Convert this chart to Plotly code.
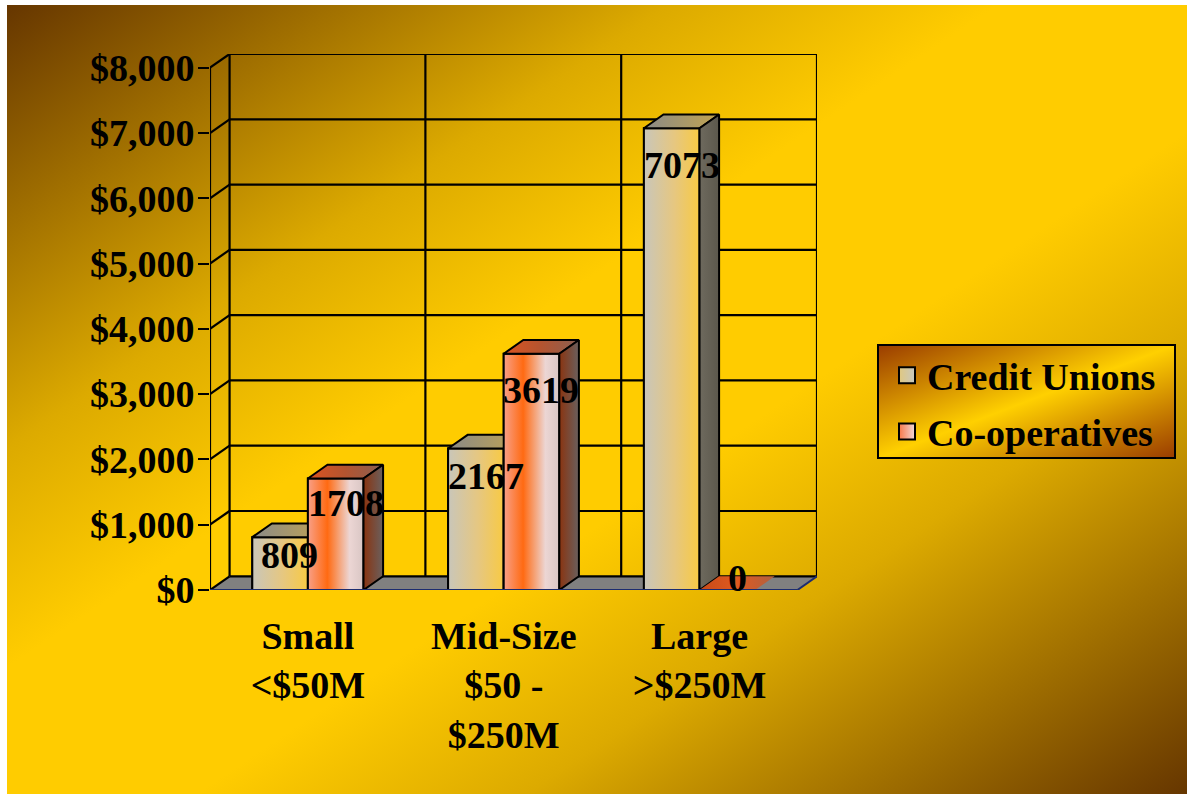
import base64
import plotly.graph_objects as go

# ---------------- data ----------------
categories = ["Small<br><$50M", "Mid-Size<br>$50 -<br>$250M", "Large<br>>$250M"]
series_names = ["Credit Unions", "Co-operatives"]
credit_unions = [809, 2167, 7073]
cooperatives = [1708, 3619, 0]
y_ticks = [0, 1000, 2000, 3000, 4000, 5000, 6000, 7000, 8000]
y_ticktext = ["$" + f"{v:,}" for v in y_ticks]

# ---------------- geometry / style ----------------
FIG_W, FIG_H = 1187, 794
ML, MR, MT, MB = 210, 370, 54, 204
PW, PH = FIG_W - ML - MR, FIG_H - MT - MB
DX, DY = 0.1, 210          # 3-D depth offset (x units, y units)
BAR_W = 0.284
BAR_OFF = [-0.142, 0.142]
YMAX = y_ticks[-1]
FONT = "Liberation Serif"

styles = [
    dict(front=[[0, "#c9c6ba"], [0.55, "#e6c780"], [1, "#f8ca44"]],
         top=[[0, "#8a8a88"], [1, "#c2a450"]],
         side=[[0, "#6e6a5e"], [1, "#5c584c"]],
         solid="#e0c880", legend2="#c8c8c0"),
    dict(front=[[0, "#f8a088"], [0.35, "#ff6a12"], [0.75, "#ecd6d4"], [1, "#d9c6c4"]],
         top=[[0, "#dc5420"], [0.5, "#b45430"], [1, "#8a6052"]],
         side=[[0, "#8a3410"], [1, "#6a605e"]],
         solid="#f87848", legend2="#f0d8d8"),
]

fig = go.Figure()

# --------- background (slide gradient + legend panel) ---------
svg = """<svg xmlns='http://www.w3.org/2000/svg' width='1180' height='789' viewBox='0 0 1180 789' preserveAspectRatio='none'>
<defs>
<linearGradient id='g' x1='0' y1='0' x2='1' y2='1'>
<stop offset='0' stop-color='#663600'/><stop offset='0.28' stop-color='#dcaa00'/>
<stop offset='0.42' stop-color='#ffcc00'/><stop offset='0.58' stop-color='#ffcc00'/>
<stop offset='0.72' stop-color='#dcaa00'/><stop offset='1' stop-color='#663600'/>
</linearGradient>
<linearGradient id='l' x1='0' y1='0' x2='1' y2='1'>
<stop offset='0' stop-color='#9a3c00'/><stop offset='0.5' stop-color='#ffd000'/><stop offset='1' stop-color='#9a3c00'/>
</linearGradient>
</defs>
<rect x='0' y='0' width='1180' height='789' fill='url(#g)'/>
<rect x='871' y='340' width='297' height='113' fill='url(#l)' stroke='black' stroke-width='2'/>
</svg>"""
uri = "data:image/svg+xml;base64," + base64.b64encode(svg.encode()).decode()
fig.add_layout_image(dict(source=uri, xref="paper", yref="paper",
                          x=(7 - ML) / PW, y=(FIG_H - MB - 5) / PH,
                          sizex=1180 / PW, sizey=789 / PH,
                          xanchor="left", yanchor="top", sizing="stretch", layer="below"))

# --------- walls, floor, gridlines (shapes below traces) ---------
n = len(categories)
xl, xr = -0.5, n - 0.5
LW = 2.2
shapes = []
# floor
shapes.append(dict(type="path", xref="x", yref="y", layer="below",
                   path=f"M{xl},0 L{xr},0 L{xr+DX},{DY} L{xl+DX},{DY} Z",
                   fillcolor="#808080", line=dict(width=0)))
for v in y_ticks:
    shapes.append(dict(type="line", xref="x", yref="y", layer="below",
                       x0=xl, y0=v, x1=xl + DX, y1=v + DY, line=dict(color="black", width=LW)))
    shapes.append(dict(type="line", xref="x", yref="y", layer="below",
                       x0=xl + DX, y0=v + DY, x1=xr + DX, y1=v + DY, line=dict(color="black", width=LW)))
for b in [xl + k for k in range(n + 1)]:
    shapes.append(dict(type="line", xref="x", yref="y", layer="below",
                       x0=b + DX, y0=DY, x1=b + DX, y1=YMAX + DY, line=dict(color="black", width=LW)))
# front value axis line
shapes.append(dict(type="line", xref="x", yref="y", layer="below",
                   x0=xl, y0=0, x1=xl, y1=YMAX, line=dict(color="black", width=LW)))
# front floor edge + right edge (navy)
shapes.append(dict(type="line", xref="x", yref="y", layer="above",
                   x0=xl, y0=0, x1=xr, y1=0, line=dict(color="#1c2c70", width=2)))
shapes.append(dict(type="line", xref="x", yref="y", layer="above",
                   x0=xr, y0=0, x1=xr + DX, y1=DY, line=dict(color="#1c2c70", width=2)))
# category boundary ticks
for b in [xl + k for k in range(n + 1)]:
    shapes.append(dict(type="line", xref="x", yref="y", layer="above",
                       x0=b, x1=b, ysizemode="pixel", yanchor=0, y0=0, y1=-12,
                       line=dict(color="#1c2c70", width=2)))
fig.update_layout(shapes=shapes)

# --------- bars ---------
all_vals = [credit_unions, cooperatives]
for s, vals in enumerate(all_vals):
    fig.add_trace(go.Bar(x=[i + BAR_OFF[s] for i in range(n)], y=vals, width=BAR_W,
                         name=series_names[s], marker=dict(color=styles[s]["solid"],
                         line=dict(color="black", width=2)), showlegend=False,
                         hoverinfo="skip"))


def poly(xs, ys, cs, x0, x1, lw=2):
    fig.add_trace(go.Scatter(x=xs + [xs[0]], y=ys + [ys[0]], mode="lines", fill="toself",
                             line=dict(color="black", width=lw),
                             fillgradient=dict(type="horizontal", colorscale=cs, start=x0, stop=x1),
                             hoverinfo="skip", showlegend=False))


annotations = []
for i in range(n):
    for s, vals in enumerate(all_vals):
        v = vals[i]
        st = styles[s]
        x0 = i + BAR_OFF[s] - BAR_W / 2
        x1 = x0 + BAR_W
        if v > 0:
            poly([x0, x1, x1, x0], [0, 0, v, v], st["front"], x0, x1)
            poly([x0, x1, x1 + DX, x0 + DX], [v, v, v + DY, v + DY], st["top"], x0, x1 + DX)
            poly([x1, x1 + DX, x1 + DX, x1], [0, DY, v + DY, v], st["side"], x1, x1 + DX)
            shift = -min(37, 13 + 0.0065 * v)
        else:
            poly([x0, x1, x1 + DX, x0 + DX], [v, v, v + DY, v + DY],
                 [[0, "#c84a18"], [0.5, "#e05a20"], [1, "#b06040"]], x0, x1 + DX, lw=0)
            shift = 12
        annotations.append(dict(x=(x0 + x1) / 2 + DX / 2, y=v, xref="x", yref="y",
                                text=str(v), showarrow=False, yanchor="middle", yshift=shift,
                                font=dict(family=FONT, size=38, color="black", weight="bold")))

# legend entries
for s in range(2):
    fig.add_trace(go.Scatter(x=[None], y=[None], mode="markers", name=series_names[s],
                             legendgroup=series_names[s],
                             marker=dict(symbol="square", size=16, color=styles[s]["solid"],
                                         gradient=dict(type="horizontal", color=styles[s]["legend2"]),
                                         line=dict(color="black", width=2))))

fig.update_layout(
    width=FIG_W, height=FIG_H,
    margin=dict(l=ML, r=MR, t=MT, b=MB, pad=0),
    paper_bgcolor="white", plot_bgcolor="rgba(0,0,0,0)",
    annotations=annotations,
    showlegend=True,
    legend=dict(xref="container", yref="container", x=887 / FIG_W, y=1 - 344 / FIG_H,
                xanchor="left", yanchor="top", bgcolor="rgba(0,0,0,0)", borderwidth=0,
                tracegroupgap=4,
                font=dict(family=FONT, size=38, color="black", weight="bold")),
    xaxis=dict(range=[xl, xr + DX], tickvals=list(range(n)), ticktext=categories,
               showgrid=False, zeroline=False, showline=False, ticks="",
               ticklabelstandoff=20,
               tickfont=dict(family=FONT, size=38, color="black", weight="bold"),
               fixedrange=True),
    yaxis=dict(range=[0, YMAX + DY], tickvals=y_ticks, ticktext=y_ticktext,
               showgrid=False, zeroline=False, showline=False,
               ticks="outside", ticklen=11, tickwidth=2, tickcolor="black",
               ticklabelstandoff=-4,
               tickfont=dict(family=FONT, size=38, color="black", weight="bold"),
               fixedrange=True),
)

fig.write_html("out.html")
